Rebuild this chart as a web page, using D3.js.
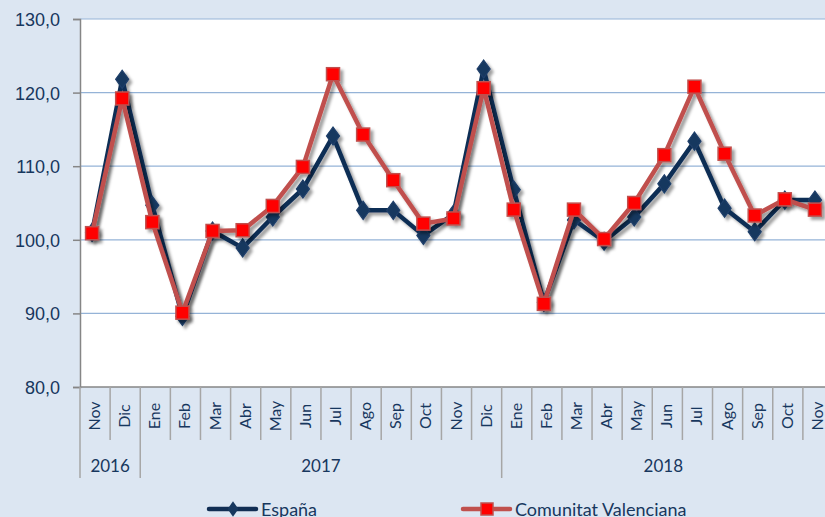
<!DOCTYPE html>
<html>
<head>
<meta charset="utf-8">
<script src="https://cdn.jsdelivr.net/npm/d3@7"></script>
<style>
  html, body { margin: 0; padding: 0; background: #dce6f2; }
  svg { display: block; font-family: Lato, "Open Sans", sans-serif; }
</style>
</head>
<body>
<svg width="825" height="517"></svg>
<script>
const months = ["Nov","Dic","Ene","Feb","Mar","Abr","May","Jun","Jul","Ago","Sep","Oct","Nov","Dic",
                "Ene","Feb","Mar","Abr","May","Jun","Jul","Ago","Sep","Oct","Nov"];
const years = [
    {label: "2016", start: 0, end: 2},
    {label: "2017", start: 2, end: 14},
    {label: "2018", start: 14, end: 25}
];
const espana = [101.0, 121.8, 104.7, 89.6, 101.2, 98.9, 103.1, 106.9, 114.1, 104.0, 104.0, 100.6, 103.5,
                123.2, 106.8, 91.5, 102.7, 99.8, 103.1, 107.6, 113.4, 104.3, 101.1, 105.4, 105.4];
const valenciana = [100.9, 119.2, 102.4, 90.1, 101.2, 101.3, 104.6, 109.9, 122.5, 114.3, 108.1, 102.2, 102.9,
                    120.6, 104.1, 91.3, 104.1, 100.1, 105.0, 111.5, 120.8, 111.7, 103.3, 105.5, 104.1];
const yTicks = [80, 90, 100, 110, 120, 130];
const seriesNames = ["España", "Comunitat Valenciana"];

const svg = d3.select("svg");
const area = {left: 80, right: 833, top: 19, bottom: 387};
const textColor = "#17375e";
const navy = "#112e54";
const red = "#c0504d";

const defs = svg.append("defs");
const f = defs.append("filter").attr("id", "shadow")
    .attr("x", "-20%").attr("y", "-20%").attr("width", "140%").attr("height", "140%");
f.append("feDropShadow").attr("dx", 3).attr("dy", 3).attr("stdDeviation", 1.8)
    .attr("flood-color", "#000").attr("flood-opacity", 0.38);

// plot area
svg.append("rect")
    .attr("x", area.left).attr("y", area.top)
    .attr("width", 825 - area.left).attr("height", area.bottom - area.top)
    .attr("fill", "#fff");

const scaleX = d3.scaleBand()
    .domain(d3.range(months.length))
    .range([area.left, area.right]);
const markerShift = -3;
const cx = i => scaleX(i) + scaleX.bandwidth() / 2 + markerShift;

const scaleY = d3.scaleLinear()
    .domain([80, 130])
    .range([area.bottom, area.top]);

// gridlines
svg.append("g").selectAll("line")
    .data(yTicks.slice(1))
    .enter().append("line")
    .attr("x1", area.left).attr("x2", 825)
    .attr("y1", d => scaleY(d)).attr("y2", d => scaleY(d))
    .attr("stroke", "#95b3d7").attr("stroke-width", 1.2);

// y axis
const axisY = d3.axisLeft(scaleY).tickValues(yTicks).tickSize(7).tickPadding(13)
    .tickFormat(d => d3.format(".1f")(d).replace(".", ","));
const gy = svg.append("g")
    .attr("transform", `translate(${area.left},0)`)
    .call(axisY);
gy.select(".domain").attr("stroke", "#868686").attr("stroke-width", 1.5);
gy.selectAll(".tick line").attr("stroke", "#868686").attr("stroke-width", 1.5);
gy.selectAll(".tick text").attr("fill", textColor).style("font-size", "18px")
    .attr("dy", "0.36em");

// x axis (bottom line + category separators)
const gx = svg.append("g");
gx.append("line")
    .attr("x1", area.left).attr("x2", 825)
    .attr("y1", area.bottom).attr("y2", area.bottom)
    .attr("stroke", "#868686").attr("stroke-width", 1.5);
const yearStarts = years.map(d => d.start);
gx.selectAll(".sep")
    .data(d3.range(months.length + 1))
    .enter().append("line")
    .attr("x1", i => i < months.length ? scaleX(i) : area.right)
    .attr("x2", i => i < months.length ? scaleX(i) : area.right)
    .attr("y1", area.bottom)
    .attr("y2", i => yearStarts.includes(i) ? 478 : 440)
    .attr("stroke", "#a6a6a6").attr("stroke-width", 1.5);

gx.selectAll(".month")
    .data(months)
    .enter().append("text")
    .attr("transform", (d, i) => `translate(${scaleX(i) + scaleX.bandwidth() / 2 + 5},416) rotate(-90)`)
    .attr("text-anchor", "middle")
    .attr("fill", textColor)
    .style("font-size", "16px")
    .text(d => d);

gx.selectAll(".year")
    .data(years)
    .enter().append("text")
    .attr("x", d => (scaleX(d.start) + (d.end < months.length ? scaleX(d.end) : area.right)) / 2 - (d.end < months.length ? 0 : 4))
    .attr("y", 472)
    .attr("text-anchor", "middle")
    .attr("fill", textColor)
    .style("font-size", "17px")
    .text(d => d.label);

// series
function drawSeries(values, color, lineWidth, markerFn) {
    const g = svg.append("g").attr("filter", "url(#shadow)");
    const line = d3.line().x((d, i) => cx(i)).y(d => scaleY(d));
    g.append("path")
        .datum(values)
        .attr("d", line)
        .attr("fill", "none")
        .attr("stroke", color)
        .attr("stroke-width", lineWidth)
        .attr("stroke-linejoin", "round");
    markerFn(g, values);
}

drawSeries(espana, navy, 4.5, (g, values) => {
    g.selectAll(".dia")
        .data(values)
        .enter().append("path")
        .attr("d", d3.symbol(d3.symbolDiamond, 95))
        .attr("transform", (d, i) => `translate(${cx(i)},${scaleY(d)}) scale(1.25,1)`)
        .attr("fill", "#17375e")
        .attr("stroke", "#1f3f6a").attr("stroke-width", 1);
});

drawSeries(valenciana, red, 4.5, (g, values) => {
    const s = 13;
    g.selectAll(".sq")
        .data(values)
        .enter().append("rect")
        .attr("x", (d, i) => cx(i) - s / 2)
        .attr("y", d => scaleY(d) - s / 2)
        .attr("width", s).attr("height", s)
        .attr("fill", "#ff0000")
        .attr("stroke", red).attr("stroke-width", 1.5);
});

// legend
const legend = svg.append("g");
const legendItems = [
    {name: seriesNames[0], x: 209, color: navy, marker: "dia"},
    {name: seriesNames[1], x: 463, color: red, marker: "sq"}
];
legendItems.forEach(it => {
    const g = legend.append("g").attr("transform", `translate(${it.x},509)`);
    g.append("line").attr("x1", 0).attr("x2", 47).attr("y1", 0).attr("y2", 0)
        .attr("stroke", it.color).attr("stroke-width", 4.5).attr("stroke-linecap", "round");
    if (it.marker === "dia") {
        g.append("path").attr("d", d3.symbol(d3.symbolDiamond, 70))
            .attr("transform", "translate(24,0) scale(1.2,1)").attr("fill", "#17375e");
    } else {
        g.append("rect").attr("x", 18).attr("y", -6).attr("width", 12).attr("height", 12)
            .attr("fill", "#ff0000").attr("stroke", red).attr("stroke-width", 1.5);
    }
    g.append("text").attr("x", 52).attr("y", 6.5)
        .attr("fill", textColor).style("font-size", "18px").text(it.name);
});
</script>
</body>
</html>
